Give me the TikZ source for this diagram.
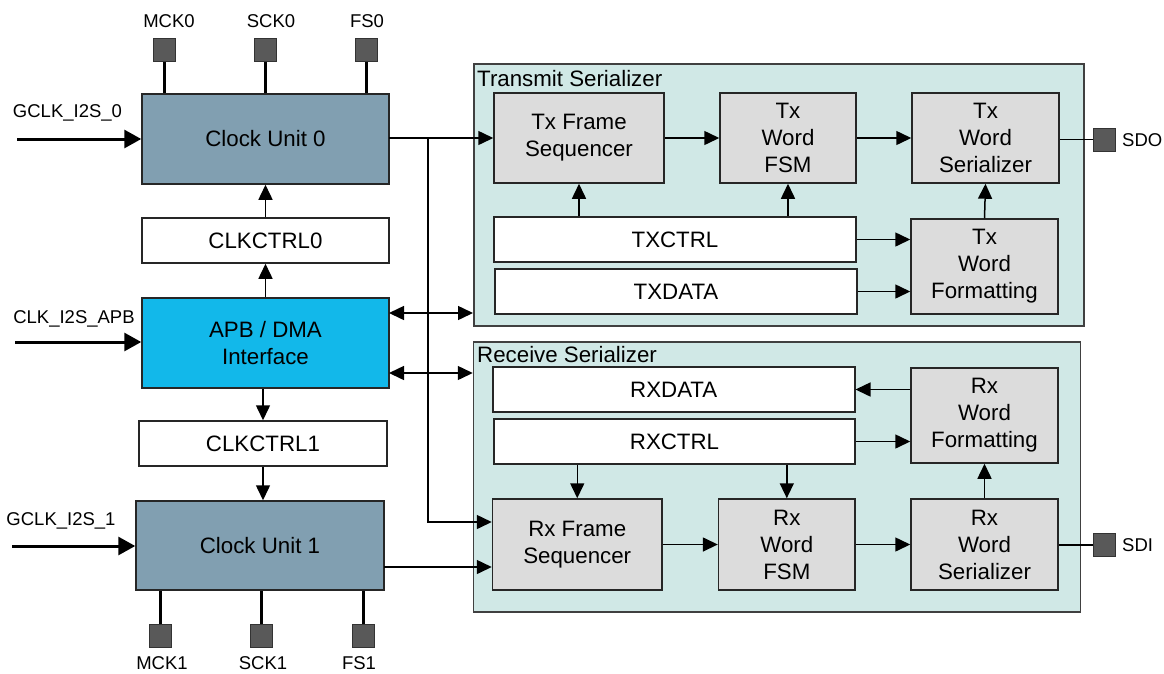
\documentclass[tikz,border=0pt]{standalone}
\usepackage{fontspec}
\setmainfont{Liberation Sans}
\usetikzlibrary{arrows.meta}
\definecolor{cuclr}{HTML}{819FB1}
\definecolor{apbclr}{HTML}{12B8EA}
\definecolor{serbg}{HTML}{D0E8E6}
\definecolor{grayblk}{HTML}{DCDCDC}
\definecolor{pinclr}{HTML}{595959}
\begin{document}
\begin{tikzpicture}[x=1pt,y=-1pt,
  bigtxt/.style={font=\fontsize{22.3}{27}\selectfont},
  smalltxt/.style={font=\fontsize{18.5}{22}\selectfont},
  blk/.style={draw=black!85, line width=1.5pt, inner sep=0pt, align=center, bigtxt},
  cublk/.style={blk, fill=cuclr},
  apbblk/.style={blk, fill=apbclr},
  regblk/.style={blk, fill=white},
  grayb/.style={blk, fill=grayblk},
  serblk/.style={draw=black!75, line width=1.5pt, fill=serbg, inner sep=0pt},
  pinb/.style={draw=black!80, line width=1pt, fill=pinclr, minimum width=22pt, minimum height=23pt, inner sep=0pt},
  arr/.style={line width=1.5pt, -{Triangle[length=15pt,width=14pt]}},
  darr/.style={line width=1.5pt, {Triangle[length=15pt,width=14pt]}-{Triangle[length=15pt,width=14pt]}},
  inarr/.style={line width=3pt, -{Triangle[length=17pt,width=18pt]}},
  ln/.style={line width=1.5pt},
  pinln/.style={line width=3pt}]
\useasboundingbox (0,0) rectangle (1164,673);

% serializer containers
\node[serblk, minimum width=610pt, minimum height=262pt] (txs) at (778.75,195) {};
\node[serblk, minimum width=607pt, minimum height=270pt] (rxs) at (777,477) {};
\node[bigtxt, anchor=west, inner sep=0pt] (txst) at (477,79) {Transmit Serializer};
\node[bigtxt, anchor=west, inner sep=0pt] (rxst) at (477,355) {Receive Serializer};

% left column
\node[cublk, minimum width=247pt, minimum height=90pt] (cu0) at (265.5,139) {Clock Unit 0};
\node[regblk, minimum width=247pt, minimum height=45pt] (clk0) at (265.5,240.5) {CLKCTRL0};
\node[apbblk, minimum width=247pt, minimum height=90pt] (apb) at (265.5,343) {APB / DMA\\Interface};
\node[regblk, minimum width=248pt, minimum height=45pt] (clk1) at (263,443.5) {CLKCTRL1};
\node[cublk, minimum width=248pt, minimum height=89pt] (cu1) at (260,545.5) {Clock Unit 1};

% Tx blocks
\node[grayb, minimum width=170pt, minimum height=90pt] (txfs) at (579,138) {Tx Frame\\Sequencer};
\node[grayb, minimum width=136pt, minimum height=90pt] (txfsm) at (788,138) {Tx\\Word\\FSM};
\node[grayb, minimum width=147pt, minimum height=90pt] (txws) at (985.5,138) {Tx\\Word\\Serializer};
\node[regblk, minimum width=362pt, minimum height=45pt] (txctrl) at (675,239.5) {TXCTRL};
\node[regblk, minimum width=362pt, minimum height=45pt] (txdata) at (676,291.5) {TXDATA};
\node[grayb, minimum width=147pt, minimum height=95pt] (txwf) at (984.5,266.5) {Tx\\Word\\Formatting};

% Rx blocks
\node[regblk, minimum width=362pt, minimum height=45pt] (rxdata) at (673.75,389.5) {RXDATA};
\node[regblk, minimum width=361pt, minimum height=45pt] (rxctrl) at (674.5,441.5) {RXCTRL};
\node[grayb, minimum width=147pt, minimum height=95pt] (rxwf) at (984.5,415.5) {Rx\\Word\\Formatting};
\node[grayb, minimum width=169.5pt, minimum height=91pt] (rxfs) at (577.25,544.5) {Rx Frame\\Sequencer};
\node[grayb, minimum width=136.5pt, minimum height=91pt] (rxfsm) at (786.8,544.5) {Rx\\Word\\FSM};
\node[grayb, minimum width=147pt, minimum height=91pt] (rxws) at (984.5,544.5) {Rx\\Word\\Serializer};

% pins
\node[pinb] (m0) at (164.5,49.5) {};
\node[pinb] (s0) at (265.5,49.5) {};
\node[pinb] (f0) at (366.5,49.5) {};
\node[pinb] (m1) at (160.5,635.5) {};
\node[pinb] (s1) at (261.5,635.5) {};
\node[pinb] (f1) at (363.5,635.5) {};
\node[pinb] (sdo) at (1104,139.5) {};
\node[pinb] (sdi) at (1104,545) {};

% pin labels
\node[smalltxt, inner sep=0pt] (m0l) at (169,21) {MCK0};
\node[smalltxt, inner sep=0pt] (s0l) at (271,21) {SCK0};
\node[smalltxt, inner sep=0pt] (f0l) at (367,21) {FS0};
\node[smalltxt, inner sep=0pt] (m1l) at (162,663) {MCK1};
\node[smalltxt, inner sep=0pt] (s1l) at (263,663) {SCK1};
\node[smalltxt, inner sep=0pt] (f1l) at (359,663) {FS1};
\node[smalltxt, inner sep=0pt, anchor=west] (sdol) at (1122,140) {SDO};
\node[smalltxt, inner sep=0pt, anchor=west] (sdil) at (1122,545) {SDI};

% input labels
\node[smalltxt, inner sep=0pt] (g0l) at (67.5,113) {GCLK\_I2S\_0};
\node[smalltxt, inner sep=0pt] (apbl) at (74,319) {CLK\_I2S\_APB};
\node[smalltxt, inner sep=0pt] (g1l) at (61,521) {GCLK\_I2S\_1};

% input arrows
\coordinate (g0in) at (17,139);
\coordinate (apbin) at (15,342);
\coordinate (g1in) at (12,546);
\draw[inarr] (g0in) -- (g0in -| cu0.west);
\draw[inarr] (apbin) -- (apbin -| apb.west);
\draw[inarr] (g1in) -- (g1in -| cu1.west);

% pin lines
\draw[pinln] (m0.south) -- (m0.south |- cu0.north);
\draw[pinln] (s0.south) -- (s0.south |- cu0.north);
\draw[pinln] (f0.south) -- (f0.south |- cu0.north);
\draw[pinln] (m1.north) -- (m1.north |- cu1.south);
\draw[pinln] (s1.north) -- (s1.north |- cu1.south);
\draw[pinln] (f1.north) -- (f1.north |- cu1.south);
\draw[ln] (txws.east |- sdo.west) -- (sdo.west);
\draw[ln] (rxws.east |- sdi.west) -- (sdi.west);

% left column arrows
\draw[arr] (clk0.north) -- (cu0.south);
\draw[arr] (apb.north) -- (clk0.south);
\draw[arr] (apb.south -| clk1.north) -- (clk1.north);
\draw[arr] (clk1.south) -- (clk1.south |- cu1.north);

% clock outputs
\coordinate (c0o) at (389,138);
\coordinate (j1) at (428,138);
\coordinate (j2) at (428,522);
\coordinate (c1o) at (384,567);
\draw[arr] (c0o) -- (c0o -| txfs.west);
\draw[arr] (j1) -- (j2) -- (j2 -| rxfs.west);
\draw[arr] (c1o) -- (c1o -| rxfs.west);

% APB bus
\coordinate (a1) at (389,313);
\coordinate (a2) at (389,373);
\draw[darr] (a1) -- (a1 -| txs.west);
\draw[darr] (a2) -- (a2 -| rxs.west);

% Tx internal
\draw[arr] (txfs.east) -- (txfsm.west);
\draw[arr] (txfsm.east) -- (txws.west);
\draw[arr] (txctrl.north -| txfs.south) -- (txfs.south);
\draw[arr] (txctrl.north -| txfsm.south) -- (txfsm.south);
\draw[arr] (txwf.north) -- (txws.south);
\draw[arr] (txctrl.east) -- (txctrl.east -| txwf.west);
\draw[arr] (txdata.east) -- (txdata.east -| txwf.west);

% Rx internal
\draw[arr] (rxwf.west |- rxdata.east) -- (rxdata.east);
\draw[arr] (rxctrl.east) -- (rxctrl.east -| rxwf.west);
\draw[arr] (rxctrl.south -| rxfs.north) -- (rxfs.north);
\draw[arr] (rxctrl.south -| rxfsm.north) -- (rxfsm.north);
\draw[arr] (rxws.north) -- (rxwf.south);
\draw[arr] (rxfs.east) -- (rxfsm.west);
\draw[arr] (rxfsm.east) -- (rxws.west);
\end{tikzpicture}
\end{document}
